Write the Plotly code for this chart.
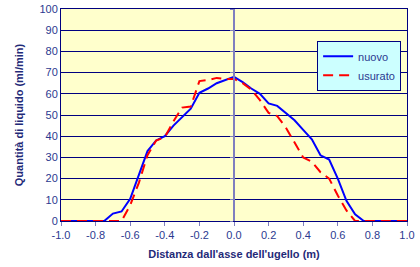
import plotly.graph_objects as go

# Data
distanza = [-1.00, -0.95, -0.90, -0.85, -0.80, -0.75, -0.70, -0.65, -0.60, -0.55,
            -0.50, -0.45, -0.40, -0.35, -0.30, -0.25, -0.20, -0.15, -0.10, -0.05,
            0.00, 0.05, 0.10, 0.15, 0.20, 0.25, 0.30, 0.35, 0.40, 0.45,
            0.50, 0.55, 0.60, 0.65, 0.70, 0.75, 0.80, 0.85, 0.90, 0.95, 1.00]
nuovo = [0, 0, 0, 0, 0, 0, 3.5, 4.5, 10.5, 22,
         33, 38, 40, 45, 49, 53, 60.5, 62.5, 65, 66.5,
         68, 65.5, 62.5, 60, 55.5, 54.3, 51, 47.5, 43, 38.5,
         31, 29, 20, 9.5, 3.2, 0, 0, 0, 0, 0, 0]
usurato = [0, 0, 0, 0, 0, 0, 0, 0, 7.5, 18,
           31, 38, 39.5, 47, 53.5, 54, 66, 66.5, 67.5, 67,
           67, 65, 62, 57, 51, 49.5, 44, 37, 30, 28,
           23, 20, 12, 5, 0, 0, 0, 0, 0, 0, 0]

x_tickvals = [-1.0, -0.8, -0.6, -0.4, -0.2, 0.0, 0.2, 0.4, 0.6, 0.8, 1.0]
x_ticktext = ["-1.0", "-0.8", "-0.6", "-0.4", "-0.2", "0.0", "0.2", "0.4", "0.6", "0.8", "1.0"]
y_tickvals = [0, 10, 20, 30, 40, 50, 60, 70, 80, 90, 100]

navy = "#000080"
text_col = "#2B3990"
title_col = "#1F2A78"
font_family = "Liberation Sans, Arial, sans-serif"

fig = go.Figure()
fig.add_trace(go.Scatter(x=distanza, y=nuovo, name="nuovo", mode="lines",
                         line=dict(color="#0000FF", width=2)))
fig.add_trace(go.Scatter(x=distanza, y=usurato, name="usurato", mode="lines",
                         line=dict(color="#FF0000", width=2, dash="10px,6px")))
# dummy trace so the axis crossing at x = 0 is drawn
fig.add_trace(go.Scatter(x=[None], y=[None], yaxis="y2", showlegend=False,
                         hoverinfo="skip"))

fig.update_layout(
    width=420, height=267,
    margin=dict(l=61, r=13, t=9, b=46, autoexpand=False),
    paper_bgcolor="white",
    plot_bgcolor="#FFFFCC",
    font=dict(family=font_family, size=11, color=text_col),
    xaxis=dict(
        range=[-1, 1], tickvals=x_tickvals, ticktext=x_ticktext,
        showgrid=False, zeroline=False, automargin=False,
        showline=True, linecolor=navy, linewidth=1, mirror=True,
        ticks="outside", ticklen=4, tickcolor="#7F7FBF",
        title=dict(text="<b>Distanza dall'asse dell'ugello (m)</b>",
                   font=dict(size=11, color=title_col), standoff=10),
        tickfont=dict(size=11, color=text_col),
    ),
    yaxis=dict(
        range=[0, 100], tickvals=y_tickvals, automargin=False,
        showgrid=True, gridcolor=navy, gridwidth=1,
        zeroline=False,
        showline=True, linecolor=navy, linewidth=1, mirror=True,
        ticks="",
        title=dict(text="<b>Quantità di liquido (ml/min)</b>",
                   font=dict(size=11, color=title_col), standoff=13),
        tickfont=dict(size=11, color=text_col),
    ),
    yaxis2=dict(
        range=[0, 100], tickvals=y_tickvals, overlaying="y", anchor="free",
        position=0.5, side="left", automargin=False,
        showgrid=False, zeroline=False, showticklabels=False,
        showline=True, linecolor="#7F7FBF", linewidth=2,
        ticks="outside", ticklen=3, tickcolor="#7F7FBF",
    ),
    legend=dict(
        x=0.983, y=0.85, xanchor="right", yanchor="top",
        bgcolor="#CCFFFF", bordercolor=navy, borderwidth=1,
        font=dict(size=11, color=text_col),
        tracegroupgap=0, itemwidth=30,
    ),
    showlegend=True,
)

fig.write_html("out.html",
               config={"displayModeBar": False},
               post_script="document.body.style.margin='0';")
